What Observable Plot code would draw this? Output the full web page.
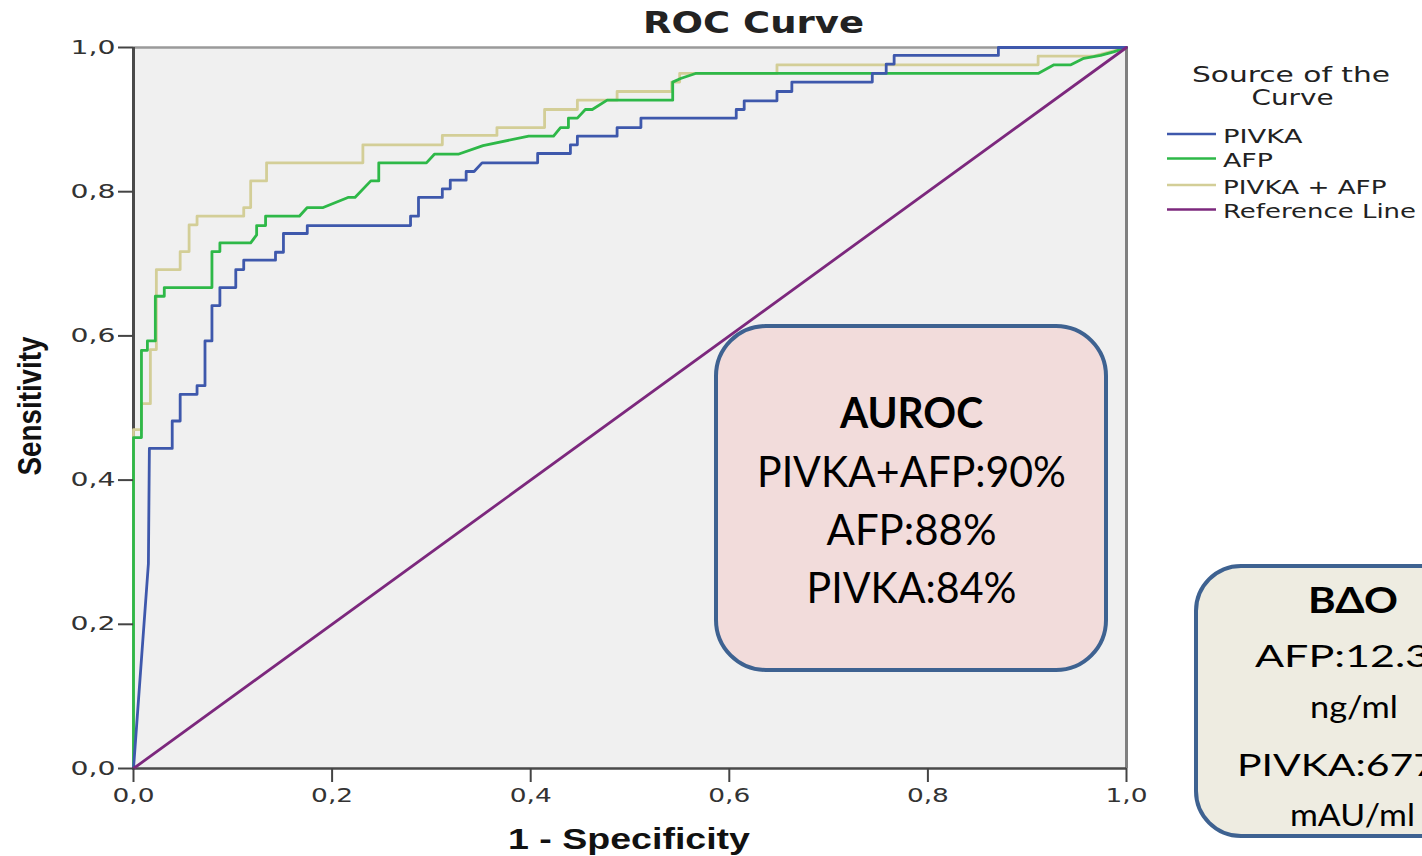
<!DOCTYPE html>
<html><head><meta charset="utf-8">
<script src="https://cdn.jsdelivr.net/npm/d3@7"></script>
<script src="https://cdn.jsdelivr.net/npm/@observablehq/plot@0.6"></script>
<style>
html,body{margin:0;padding:0;background:#fff;}
#wrap{position:relative;width:1422px;height:856px;overflow:hidden;background:#fff;}
#wrap svg{position:absolute;left:0;top:0;}
</style></head><body><div id="wrap"></div>
<script>
// ---- data: ROC points as [1 - specificity, sensitivity] ----
const pivka = [[0,0],[0.015,0.284],[0.016,0.444],[0.039,0.444],[0.039,0.482],[0.047,0.482],[0.047,0.519],[0.064,0.519],[0.064,0.531],[0.072,0.531],[0.072,0.593],[0.079,0.593],[0.079,0.642],[0.087,0.642],[0.087,0.667],[0.103,0.667],[0.103,0.692],[0.111,0.692],[0.111,0.705],[0.143,0.705],[0.143,0.716],[0.151,0.716],[0.151,0.742],[0.175,0.742],[0.175,0.753],[0.279,0.753],[0.279,0.766],[0.287,0.766],[0.287,0.792],[0.311,0.792],[0.311,0.804],[0.319,0.804],[0.319,0.816],[0.335,0.816],[0.335,0.828],[0.343,0.828],[0.351,0.840],[0.407,0.840],[0.407,0.853],[0.440,0.853],[0.440,0.865],[0.447,0.865],[0.447,0.877],[0.487,0.877],[0.487,0.889],[0.511,0.889],[0.511,0.902],[0.607,0.902],[0.607,0.914],[0.615,0.914],[0.615,0.926],[0.648,0.926],[0.648,0.939],[0.663,0.939],[0.663,0.952],[0.744,0.952],[0.744,0.964],[0.758,0.964],[0.758,0.977],[0.766,0.977],[0.766,0.989],[0.871,0.989],[0.871,1],[1,1]];
const afp = [[0,0],[0,0.459],[0.008,0.459],[0.008,0.580],[0.014,0.580],[0.014,0.593],[0.022,0.593],[0.022,0.655],[0.031,0.655],[0.031,0.667],[0.079,0.667],[0.079,0.717],[0.087,0.717],[0.087,0.729],[0.118,0.729],[0.124,0.740],[0.124,0.753],[0.133,0.753],[0.133,0.766],[0.167,0.766],[0.175,0.778],[0.191,0.778],[0.216,0.792],[0.223,0.792],[0.239,0.815],[0.247,0.815],[0.247,0.840],[0.295,0.840],[0.303,0.852],[0.327,0.852],[0.352,0.864],[0.398,0.877],[0.423,0.877],[0.430,0.889],[0.438,0.889],[0.438,0.902],[0.447,0.902],[0.455,0.914],[0.462,0.914],[0.477,0.927],[0.543,0.927],[0.543,0.952],[0.551,0.957],[0.566,0.964],[0.911,0.964],[0.927,0.976],[0.944,0.976],[0.957,0.985],[0.974,0.989],[0.987,0.994],[1,1]];
const pivkaAfp = [[0,0],[0,0.470],[0.008,0.470],[0.008,0.506],[0.017,0.506],[0.017,0.581],[0.023,0.581],[0.023,0.692],[0.047,0.692],[0.047,0.717],[0.056,0.717],[0.056,0.754],[0.064,0.754],[0.064,0.766],[0.111,0.766],[0.111,0.778],[0.118,0.778],[0.118,0.815],[0.134,0.815],[0.134,0.840],[0.231,0.840],[0.231,0.865],[0.311,0.865],[0.311,0.878],[0.366,0.878],[0.366,0.889],[0.414,0.889],[0.414,0.914],[0.447,0.914],[0.447,0.927],[0.487,0.927],[0.487,0.939],[0.542,0.939],[0.542,0.952],[0.550,0.952],[0.550,0.964],[0.648,0.964],[0.648,0.976],[0.911,0.976],[0.911,0.988],[0.967,0.988],[1,1]];
const referenceLine = [[0,0],[1,1]];

const seriesNames = ["PIVKA", "AFP", "PIVKA + AFP", "Reference Line"];
const seriesColors = ["#3E58AC", "#2EB848", "#D3CE97", "#7C287D"];
const xTicks = [0, 0.2, 0.4, 0.6, 0.8, 1.0];
const yTicks = [0, 0.2, 0.4, 0.6, 0.8, 1.0];

const aurocLines = ["AUROC", "PIVKA+AFP:90%", "AFP:88%", "PIVKA:84%"];
const cutoffLines = ["ΒΔΟ", "AFP:12.3", "ng/ml", "PIVKA:677", "mAU/ml"];

// ---- build table ----
const seriesData = [pivka, afp, pivkaAfp, referenceLine];
const drawOrder = [2, 1, 0, 3];
const rows = [];
for (const i of drawOrder) for (const [fpr, tpr] of seriesData[i]) rows.push({series: seriesNames[i], fpr, tpr});

const comma = d => d3.format(".1f")(d).replace(".", ",");

const chart = Plot.plot({
  width: 1422, height: 856,
  marginLeft: 133, marginRight: 296, marginTop: 47, marginBottom: 88,
  x: {domain: [0, 1], label: null},
  y: {domain: [0, 1], label: null},
  color: {domain: seriesNames, range: seriesColors},
  style: {fontFamily: "DejaVu Sans", fontSize: "19px", color: "#333", background: "transparent"},
  marks: [
    Plot.frame({fill: "#f0f0f0", stroke: null}),
    Plot.ruleY([1], {stroke: "#9a9a9a", strokeWidth: 2.5}),
    Plot.ruleX([1], {stroke: "#808080", strokeWidth: 3}),
    Plot.ruleX([0], {stroke: "#4a4a4a", strokeWidth: 3}),
    Plot.ruleY([0], {stroke: "#4a4a4a", strokeWidth: 2.5}),
    Plot.line(rows, {x: "fpr", y: "tpr", z: "series", stroke: "series", strokeWidth: 2.8}),
    Plot.axisX({ticks: xTicks, tickFormat: comma, tickSize: 14, tickPadding: 6, strokeWidth: 2, stroke: "#444", label: null}),
    Plot.axisY({ticks: yTicks, tickFormat: comma, tickSize: 15, tickPadding: 3, strokeWidth: 2, stroke: "#444", label: null})
  ]
});
document.getElementById("wrap").appendChild(chart);

d3.select(chart).selectAll('g[aria-label="x-axis tick label"] text')
  .attr("textLength", 42).attr("lengthAdjust", "spacingAndGlyphs");
d3.select(chart).selectAll('g[aria-label="y-axis tick label"] text')
  .attr("textLength", 45).attr("lengthAdjust", "spacingAndGlyphs");

// ---- overlay: titles, legend, annotation boxes ----
const ov = d3.select("#wrap").append("svg").attr("width", 1422).attr("height", 856);
function txt(x, y, s, o) {
  const t = ov.append("text").attr("x", x).attr("y", y).text(s)
    .attr("font-family", o.family || "DejaVu Sans")
    .attr("font-size", o.size)
    .attr("font-weight", o.weight || "normal")
    .attr("text-anchor", o.anchor || "middle")
    .attr("fill", o.fill || "#111");
  if (o.len) t.attr("textLength", o.len).attr("lengthAdjust", "spacingAndGlyphs");
  if (o.rotate) t.attr("transform", `rotate(${o.rotate},${x},${y})`);
  return t;
}
txt(753.5, 33, "ROC Curve", {size: 30, weight: "bold", len: 221, fill: "#222"});
txt(629, 849, "1 - Specificity", {size: 30, weight: "bold", family: "Liberation Sans Narrow, Liberation Sans", len: 242, fill: "#111"});
txt(41, 406, "Sensitivity", {size: 34, weight: "bold", family: "Liberation Sans Narrow, Liberation Sans", len: 139, rotate: -90, fill: "#111"});

// legend
txt(1291, 81.5, "Source of the", {size: 22, len: 198, fill: "#222"});
txt(1292.5, 105, "Curve", {size: 22, len: 82, fill: "#222"});
const legY = [134, 158.5, 185, 209.5];
const legW = [79.5, 50, 163.5, 193];
seriesNames.forEach((name, i) => {
  ov.append("line").attr("x1", 1167).attr("x2", 1216).attr("y1", legY[i]).attr("y2", legY[i])
    .attr("stroke", seriesColors[i]).attr("stroke-width", 2.4);
  txt(1223, legY[i] + 8.5, name, {size: 19, anchor: "start", len: legW[i], fill: "#222"});
});

// AUROC box
ov.append("rect").attr("x", 716).attr("y", 326).attr("width", 390).attr("height", 344).attr("rx", 50)
  .attr("fill", "#f2dcdb").attr("stroke", "#3e6291").attr("stroke-width", 4);
const aurocY = [428, 487, 545, 603];
const aurocW = [143, 309, 170, 210];
aurocLines.forEach((s, i) => txt(911.5, aurocY[i], s, {size: 42, weight: i === 0 ? "bold" : "normal", family: "Lato", len: aurocW[i], fill: "#000"}));

// cutoff box
ov.append("rect").attr("x", 1196).attr("y", 566).attr("width", 320).attr("height", 270).attr("rx", 45)
  .attr("fill", "#eeece1").attr("stroke", "#3e6291").attr("stroke-width", 4);
txt(1353, 613, cutoffLines[0], {size: 36, weight: "bold", family: "Lato", len: 90, fill: "#000"});
txt(1255, 667, cutoffLines[1], {size: 31, family: "Lato", anchor: "start", len: 175, fill: "#000"});
txt(1354, 718, cutoffLines[2], {size: 31, family: "Lato", len: 88, fill: "#000"});
txt(1237, 776, cutoffLines[3], {size: 31, family: "Lato", anchor: "start", len: 200, fill: "#000"});
txt(1352.5, 826, cutoffLines[4], {size: 31, family: "Lato", len: 125, fill: "#000"});
</script></body></html>
